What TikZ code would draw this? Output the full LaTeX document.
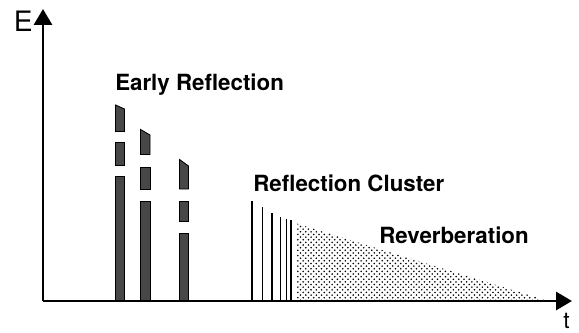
\documentclass[tikz,border=0pt]{standalone}
\usepackage{fontspec}
\setmainfont{TeX Gyre Heros}
\usetikzlibrary{arrows.meta,patterns}

\tikzset{
  axisline/.style={line width=1.7pt, -{Triangle[length=0.32cm, width=0.36cm]}},
  barseg/.style={fill=black!72, draw=black, line width=0.5pt},
  clusterline/.style={line width=1.1pt},
  zonelabel/.style={anchor=base west, inner sep=0, font=\fontsize{12.7}{15}\selectfont\bfseries},
}

\begin{document}
\begin{tikzpicture}
    \useasboundingbox (-0.86, -0.62) rectangle (10.72, 6.02);
    % reverberation tail
    \fill[pattern=crosshatch dots, pattern color=black] (5.07, 0) -- (5.07, 1.55) -- (10.04, 0.02) -- (10.04, 0) -- cycle;
    % early reflections
    \fill[barseg] (1.45, 3.39) -- (1.45, 3.92) -- (1.63, 3.84) -- (1.63, 3.39) -- cycle;
    \fill[barseg] (1.45, 2.72) rectangle (1.63, 3.17);
    \fill[barseg] (1.45, 0) rectangle (1.63, 2.50);
    \fill[barseg] (1.95, 2.93) -- (1.95, 3.43) -- (2.14, 3.32) -- (2.14, 2.93) -- cycle;
    \fill[barseg] (1.95, 2.24) rectangle (2.14, 2.67);
    \fill[barseg] (1.95, 0) rectangle (2.14, 2.00);
    \fill[barseg] (2.73, 2.24) -- (2.73, 2.83) -- (2.91, 2.70) -- (2.91, 2.24) -- cycle;
    \fill[barseg] (2.73, 1.60) rectangle (2.91, 2.00);
    \fill[barseg] (2.73, 0) rectangle (2.91, 1.35);
    % reflection cluster
    \foreach \x/\h in {4.18/2.01, 4.39/1.88, 4.58/1.77, 4.75/1.69, 4.87/1.65, 4.96/1.62}
      \draw[clusterline] (\x, 0) -- (\x, \h);
    % axes
    \coordinate (o) at (0, 0);
    \coordinate (ytip) at (0, 5.84);
    \coordinate (xtip) at (10.58, 0);
    \draw[axisline] (o) -- (ytip);
    \draw[axisline] (o) -- (xtip);
    \node[anchor=base west, inner sep=0] (elabel) at (-0.59, 5.39) {\fontsize{16}{19}\selectfont E};
    \node[anchor=base west, inner sep=0] (tlabel) at (10.4, -0.54) {\fontsize{13}{15}\selectfont t};
    \node[zonelabel] (early) at (1.44, 4.20) {Early Reflection};
    \node[zonelabel] (cluster) at (4.20, 2.19) {Reflection Cluster};
    \node[zonelabel] (reverb) at (6.72, 1.15) {Reverberation};
\end{tikzpicture}
\end{document}
